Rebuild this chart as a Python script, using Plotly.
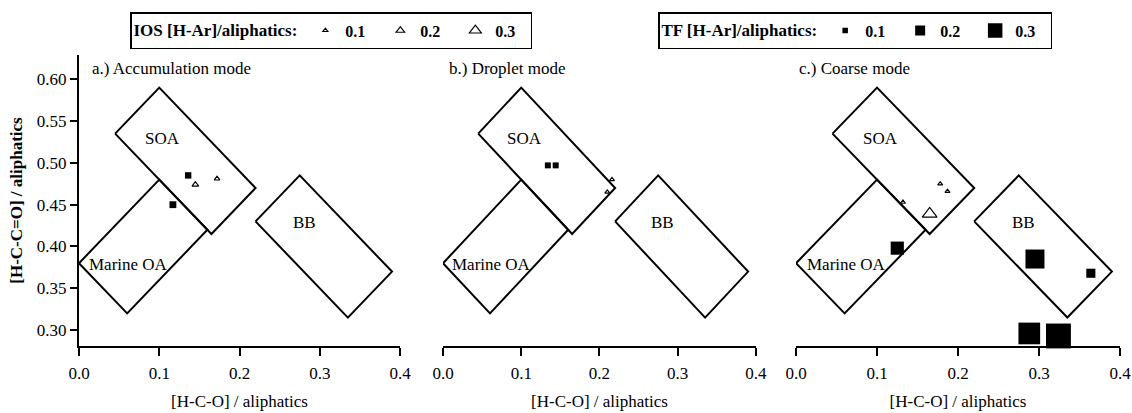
import plotly.graph_objects as go

FONT = "Liberation Serif"

# Source-type regions: corner points of each tilted box ([H-C-O], [H-C-C=O])
SOA_X = [0.045, 0.10, 0.22, 0.165]
SOA_Y = [0.535, 0.59, 0.47, 0.415]
MOA_X = [0.0, 0.10, 0.16, 0.06]
MOA_Y = [0.38, 0.48, 0.42, 0.32]
BB_X = [0.22, 0.275, 0.39, 0.335]
BB_Y = [0.43, 0.485, 0.37, 0.315]

REGION_NAMES = ["SOA", "Marine OA", "BB"]
REGION_LABEL_X = [0.104, 0.062, 0.281]
REGION_LABEL_Y = [0.529, 0.378, 0.429]

PANEL_TITLES = ["a.) Accumulation mode", "b.) Droplet mode", "c.) Coarse mode"]

# IOS samples per mode: x = [H-C-O]/aliph, y = [H-C-C=O]/aliph, har = [H-Ar]/aliph
IOS_ACC_X = [0.145, 0.172]
IOS_ACC_Y = [0.474, 0.481]
IOS_ACC_HAR = [0.15, 0.12]
IOS_DROP_X = [0.216, 0.210]
IOS_DROP_Y = [0.480, 0.465]
IOS_DROP_HAR = [0.10, 0.10]
IOS_COARSE_X = [0.178, 0.187, 0.132, 0.165]
IOS_COARSE_Y = [0.475, 0.466, 0.453, 0.439]
IOS_COARSE_HAR = [0.10, 0.10, 0.10, 0.38]

# TF samples per mode
TF_ACC_X = [0.136, 0.117]
TF_ACC_Y = [0.485, 0.450]
TF_ACC_HAR = [0.12, 0.13]
TF_DROP_X = [0.134, 0.144]
TF_DROP_Y = [0.497, 0.497]
TF_DROP_HAR = [0.11, 0.11]
TF_COARSE_X = [0.125, 0.295, 0.364, 0.288, 0.324]
TF_COARSE_Y = [0.398, 0.385, 0.368, 0.296, 0.293]
TF_COARSE_HAR = [0.27, 0.40, 0.18, 0.46, 0.53]

LEGEND_LEVELS = [0.1, 0.2, 0.3]

X_TICKS = [0.0, 0.1, 0.2, 0.3, 0.4]
Y_TICKS = [0.30, 0.35, 0.40, 0.45, 0.50, 0.55, 0.60]


def square_size(h):
    return 45 * h + 1


def triangle_size(h):
    return (35 * h + 1.5) / 1.155


def serif(size):
    return dict(family=FONT, size=size, color="black")


fig = go.Figure()

ios = [(IOS_ACC_X, IOS_ACC_Y, IOS_ACC_HAR),
       (IOS_DROP_X, IOS_DROP_Y, IOS_DROP_HAR),
       (IOS_COARSE_X, IOS_COARSE_Y, IOS_COARSE_HAR)]
tf = [(TF_ACC_X, TF_ACC_Y, TF_ACC_HAR),
      (TF_DROP_X, TF_DROP_Y, TF_DROP_HAR),
      (TF_COARSE_X, TF_COARSE_Y, TF_COARSE_HAR)]

regions = [(SOA_X, SOA_Y), (MOA_X, MOA_Y), (BB_X, BB_Y)]

for i in range(3):
    xa = "x" if i == 0 else f"x{i + 1}"
    ya = "y" if i == 0 else f"y{i + 1}"
    for rx, ry in regions:
        fig.add_trace(go.Scatter(
            x=rx + rx[:1], y=ry + ry[:1], mode="lines",
            line=dict(color="black", width=2),
            xaxis=xa, yaxis=ya, showlegend=False, hoverinfo="skip"))
    tx, ty, th = tf[i]
    fig.add_trace(go.Scatter(
        x=tx, y=ty, mode="markers", xaxis=xa, yaxis=ya, showlegend=False,
        cliponaxis=False,
        marker=dict(symbol="square", color="black", opacity=1,
                    size=[square_size(h) for h in th], line=dict(width=0))))
    ix, iy, ih = ios[i]
    fig.add_trace(go.Scatter(
        x=ix, y=iy, mode="markers", xaxis=xa, yaxis=ya, showlegend=False,
        cliponaxis=False,
        marker=dict(symbol="triangle-up", color="white", opacity=1,
                    size=[triangle_size(h) for h in ih],
                    line=dict(color="black", width=1.2))))
    for name, lx, ly in zip(REGION_NAMES, REGION_LABEL_X, REGION_LABEL_Y):
        fig.add_annotation(x=lx, y=ly, xref=xa, yref=ya, text=name,
                           showarrow=False, font=serif(17))

# Legend entries for marker size levels
for lv in LEGEND_LEVELS:
    fig.add_trace(go.Scatter(
        x=[None], y=[None], mode="markers", name=f"<b>{lv:.1f}</b>",
        legend="legend",
        marker=dict(symbol="triangle-up", color="white", size=triangle_size(lv),
                    line=dict(color="black", width=1.2))))
for lv in LEGEND_LEVELS:
    fig.add_trace(go.Scatter(
        x=[None], y=[None], mode="markers", name=f"<b>{lv:.1f}</b>",
        legend="legend2",
        marker=dict(symbol="square", color="black", size=square_size(lv),
                    line=dict(width=0))))

title_x = [0.034, 0.012, 0.002]
domains = [[0.0, 0.3084], [0.3497, 0.6503], [0.6888, 1.0]]
for i, t in enumerate(PANEL_TITLES):
    xa = "x" if i == 0 else f"x{i + 1}"
    fig.add_annotation(x=title_x[i], y=0.955, xref=f"{xa} domain", yref="paper",
                       xanchor="left", yanchor="middle", text=t, showarrow=False,
                       font=serif(17))

axis_common = dict(range=[0, 0.4], tickvals=X_TICKS, tickformat=".1f",
                   showline=True, linecolor="black", linewidth=2,
                   ticks="outside", ticklen=8, tickwidth=2, tickcolor="black",
                   showgrid=False, zeroline=False, ticklabelstandoff=3,
                   tickfont=serif(17),
                   title=dict(text="[H-C-O] / aliphatics",
                              font=serif(17), standoff=13))


def legend_box(title, x0):
    return dict(title=dict(text=title, side="left", font=serif(17)),
                orientation="h", xref="container", yref="container",
                x=x0 / 1132, y=1 - 12 / 413, xanchor="left", yanchor="top",
                bordercolor="black", borderwidth=1.5, bgcolor="white",
                font=serif(16), itemsizing="trace",
                entrywidth=30, entrywidthmode="pixels")


layout = dict(
    template="none",
    width=1132, height=413,
    margin=dict(l=79, r=12, t=55, b=67),
    paper_bgcolor="white", plot_bgcolor="white",
    font=serif(17),
    showlegend=True,
    legend=legend_box("<b>IOS [H-Ar]/aliphatics:</b>", 130),
    legend2=legend_box("<b>TF [H-Ar]/aliphatics:</b>", 658),
)
for i in range(3):
    key = "xaxis" if i == 0 else f"xaxis{i + 1}"
    ykey = "yaxis" if i == 0 else f"yaxis{i + 1}"
    layout[key] = dict(axis_common, domain=domains[i],
                       anchor="y" if i == 0 else f"y{i + 1}")
    if i == 0:
        layout[ykey] = dict(range=[0.281, 0.629], tickvals=Y_TICKS, tickformat=".2f",
                            showline=True, linecolor="black", linewidth=2,
                            ticks="outside", ticklen=7, tickwidth=2, tickcolor="black",
                            showgrid=False, zeroline=False,
                            tickfont=serif(17),
                            title=dict(text="<b>[H-C-C=O] / aliphatics</b>",
                                       font=serif(17), standoff=10),
                            anchor="x")
    else:
        layout[ykey] = dict(range=[0.281, 0.629], visible=False,
                            anchor=f"x{i + 1}")

fig.update_layout(**layout)
fig.write_html("out.html")
